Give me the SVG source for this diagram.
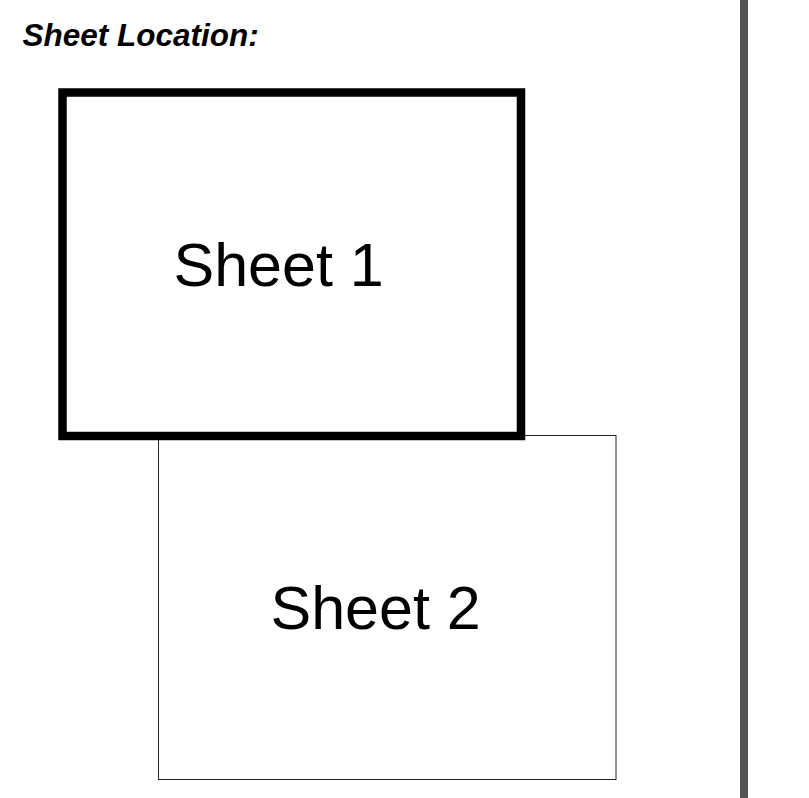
<svg xmlns="http://www.w3.org/2000/svg" width="809" height="798" viewBox="0 0 809 798">
<style>
.lbl{font-family:"Liberation Sans",Arial,sans-serif;fill:#000}
.big{font-size:61px}
.title{font-size:31.5px;font-weight:bold;font-style:italic}
</style>
<rect width="809" height="798" fill="#fff"/>
<text class="lbl title" x="22.5" y="46">Sheet Location:</text>
<rect x="740" y="0" width="8" height="798" fill="#555"/>
<g id="sheet2">
<rect x="158.5" y="435.5" width="457.5" height="344" fill="none" stroke="#222" stroke-width="1"/>
<text class="lbl big" x="270.5" y="629">Sheet 2</text>
</g>
<g id="sheet1">
<rect x="62.5" y="92.5" width="458.5" height="343.5" fill="none" stroke="#000" stroke-width="8.5"/>
<text class="lbl big" x="173.5" y="286">Sheet 1</text>
</g>
<g id="connectors"/>
</svg>
